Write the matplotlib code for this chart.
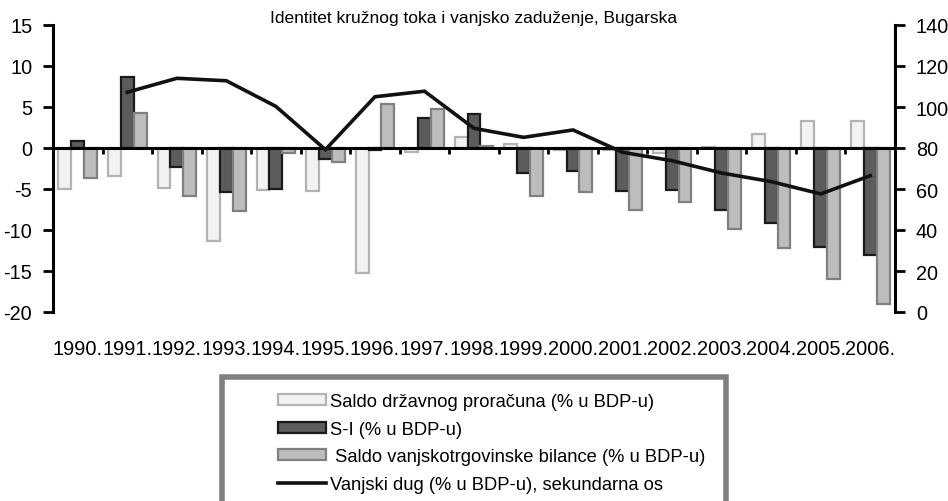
import matplotlib.pyplot as plt
import numpy as np
from matplotlib.patches import Rectangle

plt.rcParams['font.family'] = ['Liberation Sans', 'DejaVu Sans']
plt.rcParams['axes.unicode_minus'] = False

godine = ['1990.', '1991.', '1992.', '1993.', '1994.', '1995.', '1996.', '1997.', '1998.',
          '1999.', '2000.', '2001.', '2002.', '2003.', '2004.', '2005.', '2006.']

saldo_proracuna = [-5.0, -3.4, -4.9, -11.3, -5.1, -5.3, -15.2, -0.5, 1.4,
                   0.5, -0.2, -0.2, -0.6, 0.1, 1.7, 3.3, 3.3]
s_i = [0.8, 8.7, -2.3, -5.4, -5.0, -1.3, -0.2, 3.6, 4.1,
       -3.0, -2.8, -5.2, -5.1, -7.6, -9.1, -12.1, -13.0]
saldo_trgovine = [-3.7, 4.3, -5.8, -7.7, -0.6, -1.7, 5.4, 4.7, 0.3,
                  -5.8, -5.4, -7.6, -6.6, -9.9, -12.2, -16.0, -19.0]
vanjski_dug = [np.nan, 107.2, 114.0, 112.8, 100.3, 79.2, 105.0, 107.7, 89.6,
               85.2, 88.8, 77.9, 73.8, 67.8, 63.6, 57.6, 66.5]

x = np.arange(len(godine))
w = 0.26

fig = plt.figure(figsize=(9.48, 5.02), dpi=100)
ax = fig.add_axes([53/948, 1 - 313/502, 842/948, 287/502])

b1 = ax.bar(x - w, saldo_proracuna, w, color='#f2f2f2', edgecolor='#b3b3b3', linewidth=1.6,
            label='Saldo državnog proračuna (% u BDP-u)', zorder=2)
b2 = ax.bar(x, s_i, w, color='#5c5c5c', edgecolor='#1a1a1a', linewidth=1.6,
            label='S-I (% u BDP-u)', zorder=2)
b3 = ax.bar(x + w, saldo_trgovine, w, color='#bdbdbd', edgecolor='#808080', linewidth=1.6,
            label=' Saldo vanjskotrgovinske bilance (% u BDP-u)', zorder=2)

ax.set_xlim(-0.5, len(godine) - 0.5)
ax.set_ylim(-20, 15)
ax.set_yticks(np.arange(-20, 16, 5))
ax.tick_params(axis='y', direction='out', length=7, width=2, labelsize=14.3, pad=8)

# x os na nuli s crticama izmedu godina
ax.spines['bottom'].set_position(('data', 0))
ax.spines['bottom'].set_linewidth(2.2)
ax.spines['bottom'].set_zorder(3)
ax.set_xticks(np.arange(-0.5, len(godine)))
ax.tick_params(axis='x', direction='out', length=4, width=2, labelbottom=False)
ax.spines['left'].set_linewidth(2.2)
for s in ['top', 'right']:
    ax.spines[s].set_visible(False)

for i, g in enumerate(godine):
    ax.text(i, -0.128, g, transform=ax.get_xaxis_transform(), ha='center', va='center',
            fontsize=14.4)

ax2 = ax.twinx()
l1, = ax2.plot(x, vanjski_dug, color='#111111', linewidth=2.6, solid_joinstyle='miter',
               label='Vanjski dug (% u BDP-u), sekundarna os', zorder=4)
ax2.set_ylim(0, 140)
ax2.set_yticks(np.arange(0, 141, 20))
ax2.tick_params(axis='y', direction='out', length=7, width=2, labelsize=14.3, pad=8)
ax2.spines['right'].set_linewidth(2.2)
for s in ['top', 'left', 'bottom']:
    ax2.spines[s].set_visible(False)

fig.text(474/948, 1 - 18/502, 'Identitet kružnog toka i vanjsko zaduženje, Bugarska',
         ha='center', va='center', fontsize=12.5)

# okvir legende
fig.patches.append(Rectangle((222/948, 1 - 520/502), 504/948, 142/502, transform=fig.transFigure,
                             fill=False, edgecolor='#808080', linewidth=4))
fig.legend(handles=[b1, b2, b3, l1], loc='upper left', bbox_to_anchor=(278/948, 1 - 394/502),
           frameon=False, fontsize=13.2, handlelength=2.6, handleheight=0.55,
           handletextpad=0.25, labelspacing=0.58, borderpad=0, borderaxespad=0)

plt.savefig('out.png', dpi=100)
